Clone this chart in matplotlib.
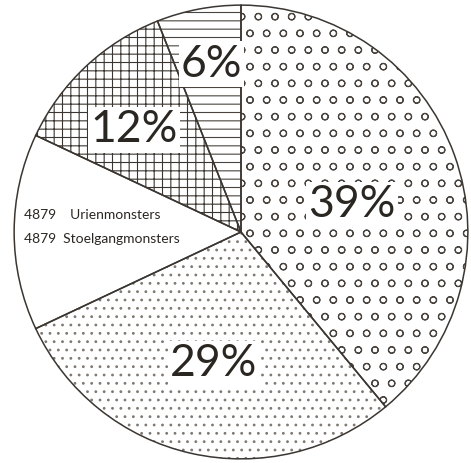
import matplotlib.pyplot as plt
import matplotlib as mpl

# slices, clockwise from 12 o'clock
shares = [39, 29, 14, 12, 6]
labels = ['39%', '29%', '', '12%', '6%']
hatches = ['o', '..', '', '++', '--']
hatch_cols = ['#4a4540', '#7d7872', '#4a4540', '#3b3631', '#4a4540']
caption = ['4879    Urienmonsters', '4879  Stoelgangmonsters']

mpl.rcParams['hatch.linewidth'] = 0.8
ink = '#3b3631'

fig = plt.figure(figsize=(4.71, 4.63), dpi=100)
ax = fig.add_axes([13 / 471, 3 / 463, 456 / 471, 456 / 463])

# hatched fills
fills, _ = ax.pie(shares, startangle=90, counterclock=False, radius=1,
                  colors=['white'] * len(shares),
                  wedgeprops=dict(linewidth=0))
for w, h, c in zip(fills, hatches, hatch_cols):
    w.set_hatch(h)
    w.set_edgecolor(c)

# outlines on top
ax.pie(shares, startangle=90, counterclock=False, radius=1,
       wedgeprops=dict(fill=False, edgecolor=ink, linewidth=1.1))

# percentage labels
lab_pos = [(0.49, 0.12), (-0.12, -0.58), None, (-0.47, 0.45), (-0.13, 0.74)]
for txt, pos in zip(labels, lab_pos):
    if pos is None:
        continue
    ax.text(pos[0], pos[1], txt, ha='center', va='center', fontsize=32,
            family='Lato', color='#2a2622',
            bbox=dict(boxstyle='square,pad=0.05', fc='white', ec='none'))

# caption in the white slice
ax.text(-0.955, 0.075, caption[0], ha='left', va='center', fontsize=10,
        family='Lato', color='#2a2622')
ax.text(-0.955, -0.03, caption[1], ha='left', va='center', fontsize=10,
        family='Lato', color='#2a2622')

ax.set_xlim(-1.005, 1.005)
ax.set_ylim(-1.005, 1.005)
ax.axis('off')

fig.savefig('out.png', dpi=100, facecolor='white')
